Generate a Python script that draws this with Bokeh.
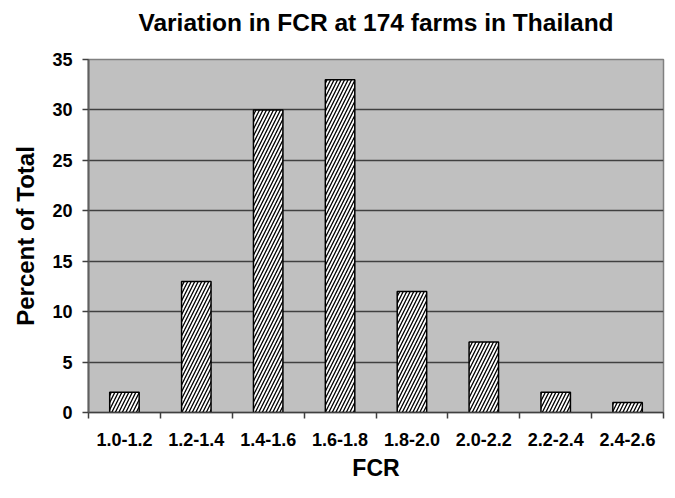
from bokeh.plotting import figure
from bokeh.models import Range1d, FixedTicker, ColumnDataSource, Title
from bokeh.embed import file_html
from bokeh.resources import INLINE

title_text = "Variation in FCR at 174 farms in Thailand"
categories = ["1.0-1.2", "1.2-1.4", "1.4-1.6", "1.6-1.8", "1.8-2.0", "2.0-2.2", "2.2-2.4", "2.4-2.6"]
percent = [2, 13, 30, 33, 12, 7, 2, 1]
y_ticks = [0, 5, 10, 15, 20, 25, 30, 35]

centers = [i + 0.5 for i in range(len(categories))]
src = ColumnDataSource(dict(x=centers, top=percent))

FONT = "Liberation Sans"

p = figure(width=675, height=498, output_backend="svg", toolbar_location=None,
           x_range=Range1d(0, len(categories)), y_range=Range1d(0, 35),
           min_border_left=88, min_border_right=12, min_border_top=0, min_border_bottom=86)

p.background_fill_color = "#c0c0c0"
p.border_fill_color = "white"
p.outline_line_color = "#808080"
p.outline_line_width = 1.5

p.title.text = title_text
p.title.align = "center"
p.title.vertical_align = "bottom"
p.title.standoff = 12
p.title.text_font = FONT
p.title.text_font_size = "24.5px"
p.title.text_font_style = "bold"
p.title.text_color = "#000000"

# empty spacer between title and plot area
p.add_layout(Title(text=" ", text_font_size="14px", standoff=0), "above")

p.vbar(x="x", top="top", width=0.41, source=src, fill_color="white",
       line_color="black", line_width=1.5, hatch_pattern="/", hatch_color="black",
       hatch_scale=7, hatch_weight=1.3)

xa = p.xaxis[0]
xa.ticker = FixedTicker(ticks=centers, minor_ticks=list(range(len(categories) + 1)))
xa.major_label_overrides = {c: lab for c, lab in zip(centers, categories)}
xa.major_tick_out = 0
xa.major_tick_in = 0
xa.minor_tick_out = 6
xa.minor_tick_in = 0
xa.minor_tick_line_color = "#404040"
xa.minor_tick_line_width = 1.5
xa.axis_line_color = "#404040"
xa.axis_line_width = 1.5
xa.major_label_text_font = FONT
xa.major_label_text_font_size = "18px"
xa.major_label_text_font_style = "bold"
xa.major_label_text_color = "black"
xa.major_label_standoff = 14
xa.axis_label = "FCR"
xa.axis_label_text_font = FONT
xa.axis_label_text_font_size = "23px"
xa.axis_label_text_font_style = "bold"
xa.axis_label_text_color = "black"
xa.axis_label_standoff = 6

ya = p.yaxis[0]
ya.ticker = FixedTicker(ticks=y_ticks)
ya.minor_tick_line_color = None
ya.major_tick_out = 6
ya.major_tick_in = 0
ya.major_tick_line_color = "#404040"
ya.major_tick_line_width = 1.5
ya.axis_line_color = "#606060"
ya.axis_line_width = 2
ya.major_label_text_font = FONT
ya.major_label_text_font_size = "18px"
ya.major_label_text_font_style = "bold"
ya.major_label_text_color = "black"
ya.major_label_standoff = 10
ya.axis_label = "Percent of Total"
ya.axis_label_text_font = FONT
ya.axis_label_text_font_size = "24px"
ya.axis_label_text_font_style = "bold"
ya.axis_label_text_color = "black"
ya.axis_label_standoff = 10

p.xgrid.grid_line_color = None
p.ygrid.grid_line_color = "#404040"
p.ygrid.grid_line_width = 1.5

open("out.html", "w").write(file_html(p, INLINE))
